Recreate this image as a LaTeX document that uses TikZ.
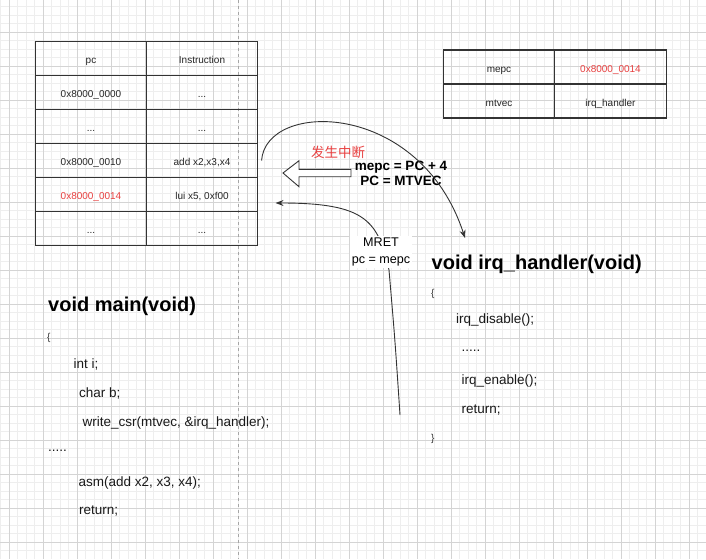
\documentclass[tikz,border=0pt]{standalone}
\usepackage{fontspec}
\setmainfont{Liberation Sans}
\newfontfamily\cjkfont{Noto Sans CJK SC}
\usetikzlibrary{arrows.meta, positioning}
\definecolor{gridminor}{RGB}{238,238,238}
\definecolor{gridmajor}{RGB}{212,212,212}
\definecolor{alertred}{RGB}{232,64,64}
\definecolor{borderline}{RGB}{51,51,51}
\newcommand{\celldots}{...}
\tikzset{
    cell/.style={draw=borderline, line width=1.1pt, minimum width=111pt,
        minimum height=34pt, inner sep=0pt, text=black!85,
        text height=10.2pt, text depth=0pt,
        font=\fontsize{10}{12}\selectfont},
    codeline/.style={anchor=west, inner sep=0pt, text=black!90,
        font=\fontsize{13.5}{16}\selectfont},
    codebrace/.style={anchor=west, inner sep=0pt, text=black!80,
        font=\fontsize{10}{12}\selectfont},
    codetitle/.style={anchor=west, inner sep=0pt,
        font=\bfseries\fontsize{20}{24}\selectfont},
    flow/.style={-{Stealth[length=8pt, width=6pt]}, line width=0.9pt,
        draw=black!80},
}

\begin{document}
\begin{tikzpicture}[x=1pt, y=-1pt]
    \useasboundingbox (0,0) rectangle (706,559);
    \fill[white] (0,0) rectangle (706,559);
    % background grid
    \foreach \gx in {0.8, 9.3, ..., 706}
        \draw[gridminor, line width=0.8pt] (\gx,0) -- (\gx,559);
    \foreach \gy in {6.8, 15.3, ..., 559}
        \draw[gridminor, line width=0.8pt] (0,\gy) -- (706,\gy);
    \foreach \gx in {9.3, 43.3, ..., 706}
        \draw[gridmajor, line width=0.8pt] (\gx,0) -- (\gx,559);
    \foreach \gy in {32.3, 66.3, ..., 559}
        \draw[gridmajor, line width=0.8pt] (0,\gy) -- (706,\gy);
    \draw[black!35, line width=0.8pt, dash pattern=on 3pt off 3pt]
        (238,0) -- (238,559);

    % program memory table
    \foreach \pcval/\insval/\pccol [count=\r from 0] in {pc/Instruction/black!85,
            0x8000\_0000/\celldots/black!85, \celldots/\celldots/black!85,
            {0x8000\_0010/add x2,x3,x4/black!85},
            {0x8000\_0014/lui x5, 0xf00/alertred}, \celldots/\celldots/black!85} {
        \node[cell, text=\pccol] (pc\r) at (91, 58.5+34*\r) {\pcval};
        \node[cell] (ins\r) at (202, 58.5+34*\r) {\insval};
    }

    % csr table
    \node[cell] (mepcname) at (499, 67) {mepc};
    \node[cell, minimum width=112pt, text=alertred] (mepcval) at (610.5, 67)
        {0x8000\_0014};
    \node[cell] (mtvecname) at (499, 101) {mtvec};
    \node[cell, minimum width=112pt] (mtvecval) at (610.5, 101) {irq\_handler};

    % main program
    \node[codetitle] (maintitle) at (48, 306) {void main(void)};
    \node[codebrace] (mainopen) at (47, 338) {\{};
    \node[codeline] (mainint) at (73.5, 364) {int i;};
    \node[codeline] (mainchar) at (79, 393) {char b;};
    \node[codeline] (maincsr) at (82.5, 423) {write\_csr(mtvec, \&irq\_handler);};
    \node[codeline] (maindots) at (48, 451) {.....};
    \node[codeline] (mainasm) at (78.5, 483) {asm(add x2, x3, x4);};
    \node[codeline] (mainret) at (79, 510.5) {return;};

    % interrupt handler
    \node[codetitle] (irqtitle) at (431.5, 264) {void irq\_handler(void)};
    \node[codebrace] (irqopen) at (431, 294) {\{};
    \node[codeline] (irqoff) at (456, 320.5) {irq\_disable();};
    \node[codeline] (irqdots) at (461.5, 351) {.....};
    \node[codeline] (irqon) at (461.5, 381.5) {irq\_enable();};
    \node[codeline] (irqret) at (461.5, 410) {return;};
    \node[codebrace] (irqclose) at (431, 439) {\}};

    % trap entry
    \node[text=alertred, inner sep=0pt, font=\cjkfont\fontsize{13.5}{16}\selectfont]
        (traplabel) at (338, 152.7) {发生中断};
    \node[align=center, inner sep=0pt, font=\bfseries\fontsize{13.5}{14.7}\selectfont]
        (trapsave) at (401, 173.4) {mepc = PC + 4\\PC = MTVEC};
    \draw[line width=0.9pt, draw=black!80, fill=white] (283,173) -- (299,160.7)
        -- (299,169.3) -- (351,169.3) -- (351,176.7) -- (299,176.7)
        -- (299,186.7) -- cycle;
    \coordinate (trapend) at (465, 238);
    \draw[flow] ([xshift=3.5pt]ins3.east) .. controls (266,100) and (420,100)
        .. (trapend);

    % trap return
    \coordinate (retstart) at (400, 415);
    \coordinate (retbend) at (389, 270);
    \draw[flow] (retstart) .. controls (395,340) .. (retbend)
        .. controls (378,220) and (365,203) .. ([xshift=17.5pt, yshift=-8.5pt]ins4.east);
    \node[align=center, fill=white, inner xsep=1.5pt, inner ysep=2pt,
        font=\fontsize{12.6}{16.7}\selectfont]
        (retlabel) at (381, 251.7) {MRET\\pc = mepc};
\end{tikzpicture}
\end{document}
